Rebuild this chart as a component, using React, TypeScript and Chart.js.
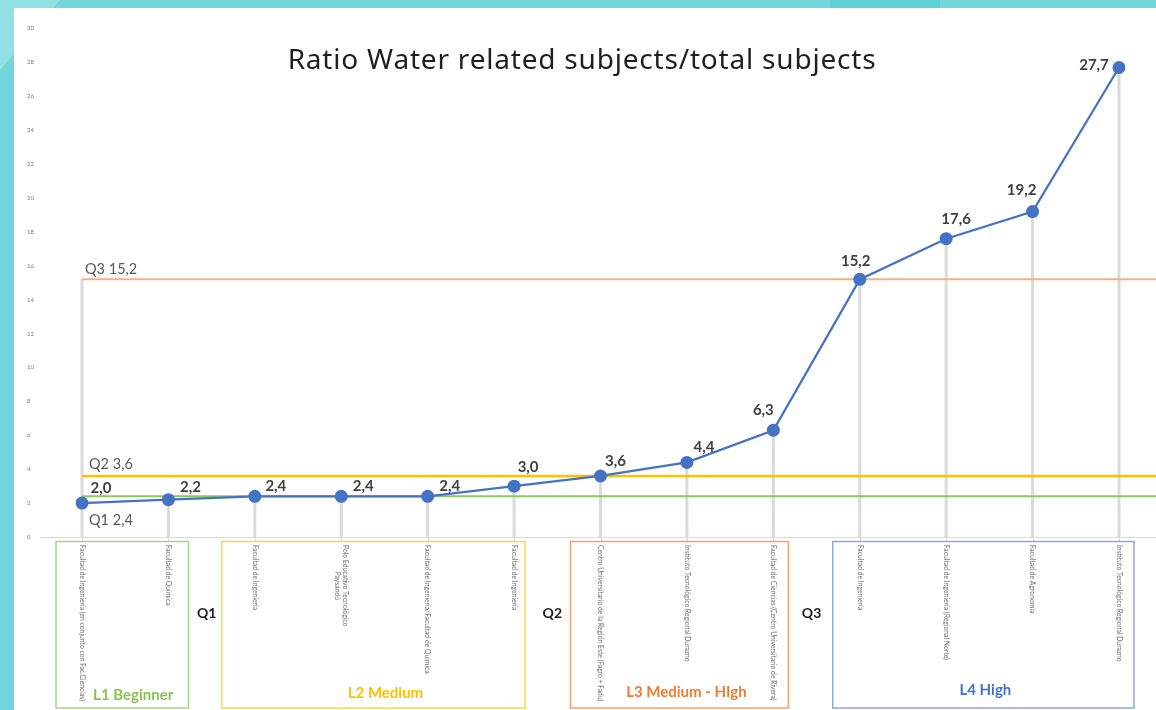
import React, { useEffect, useRef } from "react";
import { Chart, registerables } from "chart.js";

Chart.register(...registerables);

// Institutions, in ascending order of their ratio
const categories: string[] = [
  "Facultad de Ingeniería (en conjunto con Fac.Ciencias)",
  "Facultad de Química",
  "Facultad de Ingeniería",
  "Polo Educativo Tecnológico\nPaysandú",
  "Facultad de Ingeniería/Facultad de Química",
  "Facultad de Ingeniería",
  "Centro Universitario de la Región Este (Fagro + Fadu)",
  "Instituto Tecnológico Regional Durazno",
  "Facultad de Ciencias (Centro Universitario de Rivera)",
  "Facultad de Ingeniería",
  "Facultad de Ingeniería (Regional Norte)",
  "Facultad de Agronomía",
  "Instituto Tecnológico Regional Durazno",
];

// Water related subjects / total subjects (%)
const ratios: number[] = [2.0, 2.2, 2.4, 2.4, 2.4, 3.0, 3.6, 4.4, 6.3, 15.2, 17.6, 19.2, 27.7];

// Quartiles
const quartileNames: string[] = ["Q1", "Q2", "Q3"];
const quartileValues: number[] = [2.4, 3.6, 15.2];

// Levels: each spans a range of institutions
const levelNames: string[] = ["L1 Beginner", "L2 Medium", "L3 Medium - HIgh", "L4 High"];
const levelFirst: number[] = [0, 2, 6, 9];
const levelLast: number[] = [1, 5, 8, 12];

// Y axis
const yMin = 0;
const yMax = 30;
const yStep = 2;

const TITLE = "Ratio Water related subjects/total subjects";

// ---- styling ----
const quartileColors = ["#8DC85E", "#FFC000", "#F6AE84"];
const quartileLabelDx = [7, 7, 3];
const quartileLabelDy = [24, -12, -10];
const levelBorder = ["#A9D18E", "#FFD54F", "#F8A070", "#8EA9DB"];
const levelText = ["#8CC152", "#FFC000", "#ED7D31", "#4472C4"];
const levelPadLeft = [26, 33, 30, 27];
const levelPadRight = [20, 11, 15, 15];
const levelTextDx = [11, 12, 7, 2];
const levelTextY = [695, 693, 692, 690];
const valueLabelDx = [19, 22, 21, 22, 22, 14, 15, 17, -10, -4, 10, -11, -25];
const valueLabelDy = [-15, -13, -10, -10, -10, -19, -15, -15, -20, -18, -20, -21, -2];

const fmt = (v: number) => v.toFixed(1).replace(".", ",");

const W = 1156;
const H = 710;

const decorations = {
  id: "decorations",
  beforeDraw(chart: any) {
    const ctx = chart.ctx as CanvasRenderingContext2D;
    ctx.save();
    ctx.fillStyle = "#72D7DD";
    ctx.fillRect(0, 0, W, H);
    // lighter streak in the top-left corner
    ctx.fillStyle = "#93E0E4";
    ctx.beginPath();
    ctx.moveTo(0, 0);
    ctx.lineTo(60, 0);
    ctx.lineTo(0, 70);
    ctx.closePath();
    ctx.fill();
    ctx.fillStyle = "#5ED0D6";
    ctx.fillRect(830, 0, 110, 8);
    ctx.fillStyle = "#ffffff";
    ctx.fillRect(14, 8, W - 14, H - 8);
    ctx.restore();
  },
  beforeDatasetsDraw(chart: any) {
    const ctx = chart.ctx as CanvasRenderingContext2D;
    const x = chart.scales.x;
    const y = chart.scales.y;
    const y0 = y.getPixelForValue(0);
    ctx.save();
    // axis line and category ticks
    ctx.strokeStyle = "#D9D9D9";
    ctx.lineWidth = 1;
    ctx.beginPath();
    ctx.moveTo(40, Math.round(y0) + 0.5);
    ctx.lineTo(W, Math.round(y0) + 0.5);
    for (let i = 0; i < categories.length; i++) {
      const px = Math.round(x.getPixelForValue(i)) + 0.5;
      ctx.moveTo(px, y0);
      ctx.lineTo(px, y0 + 5);
    }
    ctx.stroke();
    // drop lines
    ctx.strokeStyle = "#DADADA";
    ctx.lineWidth = 3;
    ctx.beginPath();
    const x0 = x.getPixelForValue(0);
    ctx.moveTo(x0, y.getPixelForValue(quartileValues[2]));
    ctx.lineTo(x0, y0);
    for (let i = 0; i < ratios.length; i++) {
      const px = x.getPixelForValue(i);
      ctx.moveTo(px, y.getPixelForValue(ratios[i]));
      ctx.lineTo(px, y0);
    }
    ctx.stroke();
    // quartile lines
    for (let q = 0; q < quartileValues.length; q++) {
      const py = y.getPixelForValue(quartileValues[q]);
      ctx.strokeStyle = quartileColors[q];
      ctx.lineWidth = q === 1 ? 2.5 : 2;
      ctx.beginPath();
      ctx.moveTo(x0, py);
      ctx.lineTo(W, py);
      ctx.stroke();
      ctx.fillStyle = "#595959";
      ctx.font = "14.5px Lato";
      ctx.textAlign = "left";
      ctx.textBaseline = "middle";
      ctx.fillText(
        `${quartileNames[q]} ${fmt(quartileValues[q])}`,
        x0 + quartileLabelDx[q],
        py + quartileLabelDy[q]
      );
    }
    ctx.restore();
  },
  afterDraw(chart: any) {
    const ctx = chart.ctx as CanvasRenderingContext2D;
    const x = chart.scales.x;
    const y = chart.scales.y;
    const y0 = y.getPixelForValue(0);
    ctx.save();
    // title
    ctx.fillStyle = "#1f1f1f";
    ctx.font = "28px 'Noto Sans'";
    (ctx as any).letterSpacing = "0.8px";
    ctx.textAlign = "center";
    ctx.textBaseline = "middle";
    ctx.fillText(TITLE, 582, 61);
    (ctx as any).letterSpacing = "0px";

    // value labels
    ctx.fillStyle = "#404040";
    ctx.font = "bold 15px Lato";
    for (let i = 0; i < ratios.length; i++) {
      ctx.fillText(
        fmt(ratios[i]),
        x.getPixelForValue(i) + valueLabelDx[i],
        y.getPixelForValue(ratios[i]) + valueLabelDy[i]
      );
    }

    // category labels, reading top to bottom
    ctx.fillStyle = "#6b6b6b";
    ctx.font = "6.8px Lato";
    for (let i = 0; i < categories.length; i++) {
      const lines = categories[i].split("\n");
      const widest = Math.max(...lines.map((l) => ctx.measureText(l).width));
      ctx.save();
      ctx.translate(x.getPixelForValue(i), y0 + 8);
      ctx.rotate(Math.PI / 2);
      ctx.textAlign = "center";
      ctx.textBaseline = "middle";
      lines.forEach((l, k) => {
        ctx.fillText(l, widest / 2, (k - (lines.length - 1) / 2) * 8.5);
      });
      ctx.restore();
    }

    // level boxes
    const boxTop = y0 + 4.5;
    const boxBottom = H - 2;
    for (let k = 0; k < levelNames.length; k++) {
      const left = x.getPixelForValue(levelFirst[k]) - levelPadLeft[k];
      const right = x.getPixelForValue(levelLast[k]) + levelPadRight[k];
      ctx.strokeStyle = levelBorder[k];
      ctx.lineWidth = 1.5;
      ctx.strokeRect(left, boxTop, right - left, boxBottom - boxTop);
      ctx.fillStyle = levelText[k];
      ctx.font = "bold 15px Lato";
      ctx.textAlign = "center";
      ctx.textBaseline = "middle";
      ctx.fillText(levelNames[k], (left + right) / 2 + levelTextDx[k], levelTextY[k]);
    }

    // quartile markers between levels
    ctx.fillStyle = "#1a1a1a";
    ctx.font = "bold 14px Lato";
    for (let q = 0; q < quartileNames.length; q++) {
      const a = x.getPixelForValue(levelLast[q]);
      const b = x.getPixelForValue(levelFirst[q + 1]);
      ctx.fillText(quartileNames[q], (a + b) / 2 - 5, 613);
    }
    ctx.restore();
  },
};

export default function App() {
  const canvasRef = useRef<HTMLCanvasElement | null>(null);

  useEffect(() => {
    document.body.style.margin = "0";
    const canvas = canvasRef.current;
    if (!canvas) return;
    const chart = new Chart(canvas, {
      type: "line",
      data: {
        labels: categories,
        datasets: [
          {
            data: ratios,
            borderColor: "#4472C4",
            backgroundColor: "#4472C4",
            borderWidth: 2.25,
            pointRadius: 6.5,
            pointBackgroundColor: "#4472C4",
            pointBorderColor: "#4472C4",
            pointBorderWidth: 0,
            tension: 0,
            fill: false,
          },
        ],
      },
      options: {
        responsive: false,
        animation: false,
        devicePixelRatio: 1,
        layout: { padding: { left: 27, top: 28.5, right: 37, bottom: 173 } },
        plugins: {
          legend: { display: false },
          tooltip: { enabled: false },
          title: { display: false },
        },
        scales: {
          x: {
            type: "category",
            display: false,
            offset: false,
          },
          y: {
            min: yMin,
            max: yMax,
            grid: { display: false, drawTicks: false },
            border: { display: false },
            ticks: {
              stepSize: yStep,
              padding: 0,
              crossAlign: "far",
              color: "#7a7a7a",
              font: { size: 6, family: "Lato" },
            },
            afterFit: (scale: any) => {
              scale.width = 55;
            },
          },
        },
      },
      plugins: [decorations],
    });
    return () => chart.destroy();
  }, []);

  return (
    <div style={{ width: W, height: H }}>
      <canvas ref={canvasRef} width={W} height={H} style={{ display: "block", width: W, height: H }} />
    </div>
  );
}
